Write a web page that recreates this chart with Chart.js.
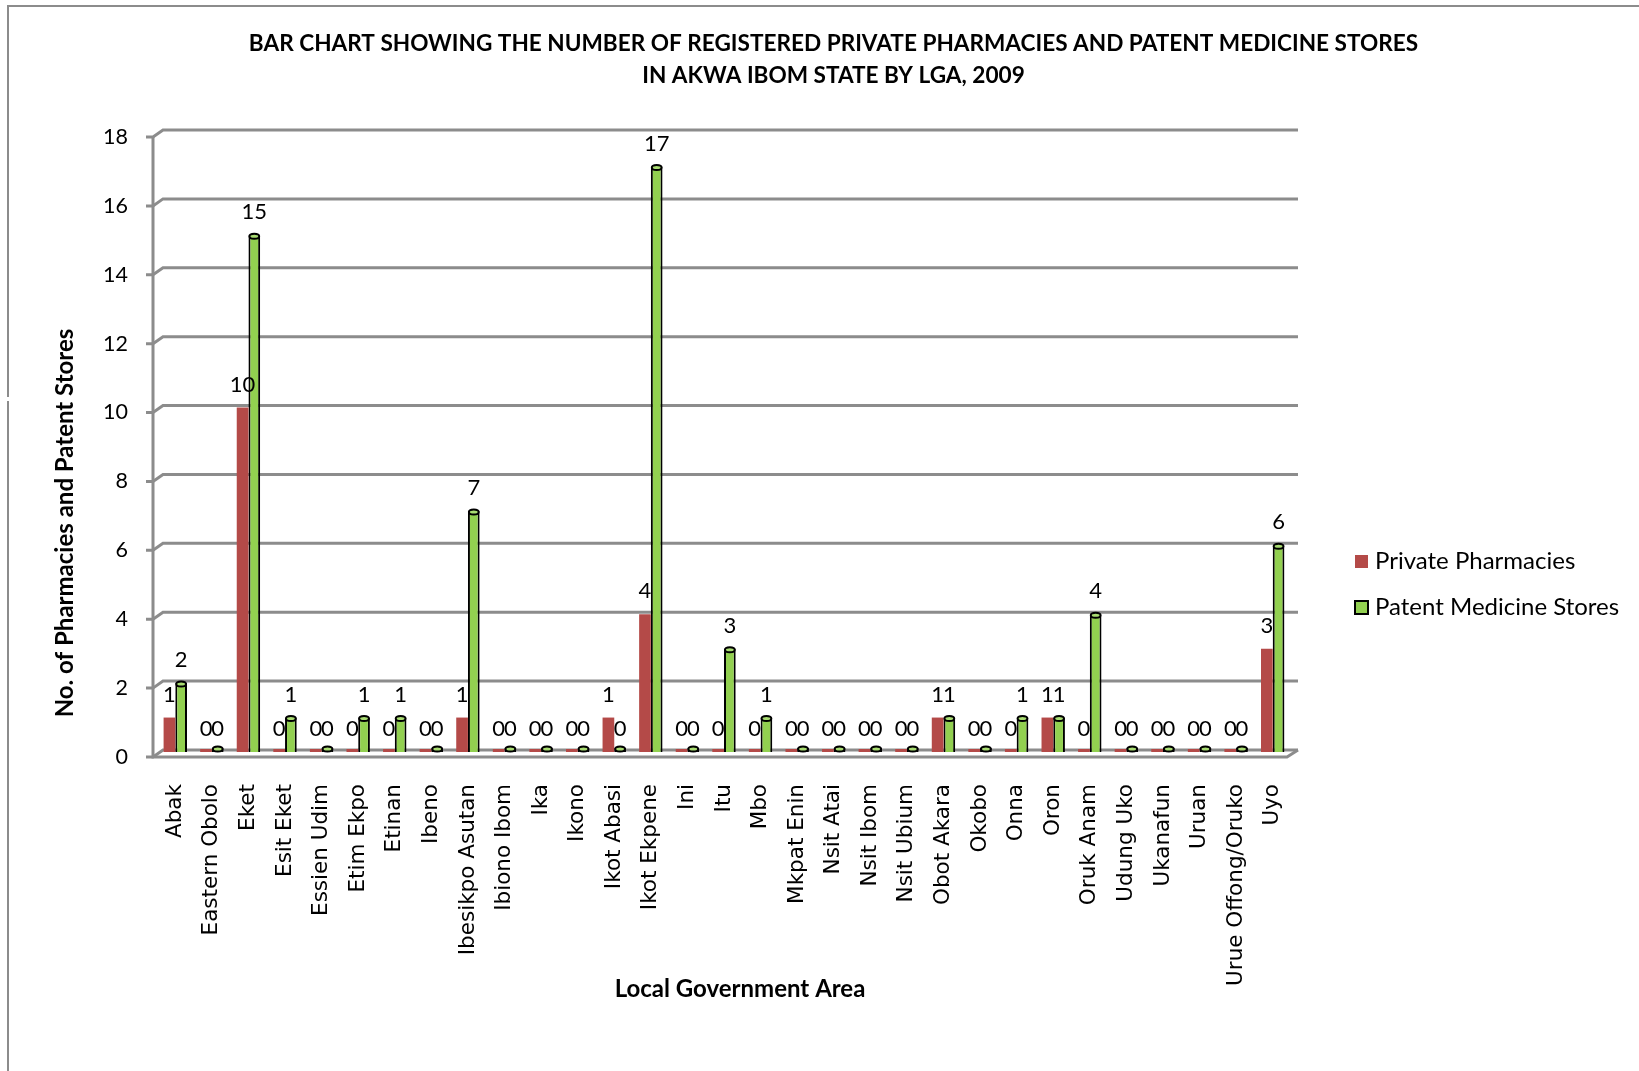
<!DOCTYPE html>
<html>
<head>
<meta charset="utf-8">
<script src="https://cdn.jsdelivr.net/npm/chart.js@4/dist/chart.umd.min.js"></script>
<style>
html,body{margin:0;padding:0;background:#fff;}
#wrap{position:relative;width:1639px;height:1071px;overflow:hidden;background:#fff;}
#wrap canvas{position:absolute;left:0;top:0;}
.bt{position:absolute;left:8px;top:5px;width:1631px;height:0;border-top:2px solid #8c8c8c;}
.bl1{position:absolute;left:7px;top:5px;height:392px;border-left:2px solid #8c8c8c;}
.bl2{position:absolute;left:7px;top:401px;height:670px;border-left:2px solid #8c8c8c;}
</style>
</head>
<body>
<div id="wrap">
  <canvas id="c" width="1639" height="1071"></canvas>
  <div class="bt"></div><div class="bl1"></div><div class="bl2"></div>
</div>
<script>
// ---- data ----
const categories = ['Abak','Eastern Obolo','Eket','Esit Eket','Essien Udim','Etim Ekpo','Etinan','Ibeno','Ibesikpo Asutan','Ibiono Ibom','Ika','Ikono','Ikot Abasi','Ikot Ekpene','Ini','Itu','Mbo','Mkpat Enin','Nsit Atai','Nsit Ibom','Nsit Ubium','Obot Akara','Okobo','Onna','Oron','Oruk Anam','Udung Uko','Ukanafun','Uruan','Urue Offong/Oruko','Uyo'];
const privatePharmacies = [1,0,10,0,0,0,0,0,1,0,0,0,1,4,0,0,0,0,0,0,0,1,0,0,1,0,0,0,0,0,3];
const patentMedicineStores = [2,0,15,1,0,1,1,0,7,0,0,0,0,17,0,3,1,0,0,0,0,1,0,1,1,4,0,0,0,0,6];
const seriesNames = ['Private Pharmacies','Patent Medicine Stores'];
const yTickValues = [0,2,4,6,8,10,12,14,16,18];
const titleLines = ['BAR CHART SHOWING THE NUMBER OF REGISTERED PRIVATE PHARMACIES AND PATENT MEDICINE STORES','IN AKWA IBOM STATE BY LGA, 2009'];
const xAxisTitle = 'Local Government Area';
const yAxisTitle = 'No. of Pharmacies and Patent Stores';

const RED = '#B44A48';
const GREEN = '#92D050';
const GRID = '#8c8c8c';
const NUM_FONT = '22px Lato';

// 3D-like walls / gridlines
const wallPlugin = {
  id: 'wall',
  beforeDatasetsDraw(chart) {
    const ctx = chart.ctx, y = chart.scales.y, x = chart.scales.x;
    const L = x.left, R = x.right;
    ctx.save();
    ctx.strokeStyle = GRID;
    ctx.lineWidth = 3;
    yTickValues.forEach(v => {
      const p = y.getPixelForValue(v);
      ctx.beginPath();
      ctx.moveTo(L - 11, p + 5);
      ctx.lineTo(L - 4, p + 5);
      ctx.lineTo(L + 6, p - 2);
      ctx.lineTo(R + 7, p - 2);
      ctx.stroke();
    });
    const top = y.getPixelForValue(18), bot = y.getPixelForValue(0);
    ctx.beginPath();
    ctx.moveTo(L - 4, top + 5);
    ctx.lineTo(L - 4, bot + 5);
    ctx.lineTo(R - 4, bot + 5);
    ctx.lineTo(R + 7, bot - 2);
    ctx.stroke();
    ctx.restore();
  }
};

// cylinder caps + value labels
const labelPlugin = {
  id: 'vlabels',
  afterDatasetsDraw(chart) {
    const ctx = chart.ctx, ys = chart.scales.y;
    ctx.save();
    const gm = chart.getDatasetMeta(1);
    gm.data.forEach(el => {
      const w = el.width;
      ctx.beginPath();
      ctx.ellipse(el.x, el.y + 1, w / 2 - 1, 2.5, 0, 0, Math.PI * 2);
      ctx.fillStyle = '#a9dc72';
      ctx.fill();
      ctx.lineWidth = 2;
      ctx.strokeStyle = '#000';
      ctx.stroke();
    });
    ctx.font = NUM_FONT;
    ctx.fillStyle = '#000';
    ctx.textAlign = 'center';
    ctx.textBaseline = 'middle';
    chart.data.datasets.forEach((ds, i) => {
      const meta = chart.getDatasetMeta(i);
      meta.data.forEach((el, j) => {
        const v = ds.data[j];
        ctx.fillText(String(v), el.x, ys.getPixelForValue(v) - 23);
      });
    });
    ctx.restore();
  }
};

// axis titles + legend
const decorPlugin = {
  id: 'decor',
  afterDraw(chart) {
    const ctx = chart.ctx;
    ctx.save();
    ctx.fillStyle = '#000';
    ctx.font = 'bold 24px Lato';
    ctx.textAlign = 'center';
    ctx.textBaseline = 'middle';
    ctx.fillText(xAxisTitle, 740, 989);
    ctx.save();
    ctx.translate(65, 523);
    ctx.rotate(-Math.PI / 2);
    ctx.fillText(yAxisTitle, 0, 0);
    ctx.restore();
    // legend
    ctx.font = '24px Lato';
    ctx.textAlign = 'left';
    const ys = [561, 607];
    chart.data.datasets.forEach((ds, i) => {
      const yy = ys[i];
      ctx.fillStyle = ds.backgroundColor;
      ctx.fillRect(1355, yy - 6, 13, 13);
      if (ds.borderWidth) {
        ctx.lineWidth = 2;
        ctx.strokeStyle = '#000';
        ctx.strokeRect(1355, yy - 6, 13, 13);
      }
      ctx.fillStyle = '#000';
      ctx.fillText(ds.label, 1375, yy);
    });
    ctx.restore();
  }
};

new Chart(document.getElementById('c'), {
  type: 'bar',
  data: {
    labels: categories,
    datasets: [
      { label: seriesNames[0], data: privatePharmacies, backgroundColor: RED, borderWidth: 0, minBarLength: 3,
        categoryPercentage: 0.64, barPercentage: 1 },
      { label: seriesNames[1], data: patentMedicineStores, backgroundColor: GREEN, borderColor: '#000', borderWidth: 2, minBarLength: 4,
        categoryPercentage: 0.64, barPercentage: 1 }
    ]
  },
  options: {
    responsive: false,
    animation: false,
    layout: { padding: { left: 28, right: 0, top: 0, bottom: 0 } },
    plugins: {
      legend: { display: false },
      tooltip: { enabled: false },
      title: {
        display: true, text: titleLines, color: '#000',
        font: { family: 'Lato', weight: 'bold', size: 22.6, lineHeight: 32 / 22.6 },
        padding: { top: 28, bottom: 40 }
      }
    },
    scales: {
      x: {
        grid: { display: false, drawTicks: false }, border: { display: false },
        ticks: { autoSkip: false, minRotation: 90, maxRotation: 90, padding: 32, color: '#000',
                 font: { family: 'DejaVu Sans', size: 21.5 } },
        afterFit(s) { s.height = 319; }
      },
      y: {
        min: 0, max: 18,
        grid: { display: false, drawTicks: false }, border: { display: false },
        ticks: { stepSize: 2, padding: 29, labelOffset: 5, color: '#000',
                 font: { family: 'Lato', size: 21.5 } },
        afterFit(s) { s.width = 129; }
      },
      legendSpace: {
        type: 'linear', position: 'right', display: true,
        grid: { display: false, drawTicks: false }, border: { display: false },
        ticks: { display: false },
        afterFit(s) { s.width = 348; }
      }
    }
  },
  plugins: [wallPlugin, labelPlugin, decorPlugin]
});
</script>
</body>
</html>
